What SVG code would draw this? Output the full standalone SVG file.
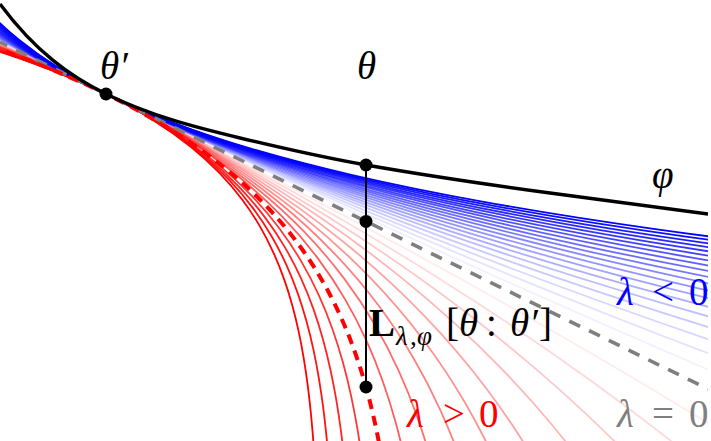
<svg xmlns="http://www.w3.org/2000/svg" width="711" height="441" viewBox="0 0 711 441">
<style>
.lab{font-family:"Liberation Serif","DejaVu Serif",serif;font-size:39px;font-style:italic}
.up{font-style:normal}
.bf{font-style:normal;font-weight:bold}
.sub{font-size:27px}
</style>
<defs>
<path id="c" fill="none" d="M1.97919,3.5 C1.974054,3.416667 1.968279,3.333333 1.961685,3.25 C1.955091,3.166667 1.947677,3.083333 1.93921,3 C1.930743,2.916667 1.921223,2.833333 1.910351,2.75 C1.899479,2.666667 1.887256,2.583333 1.873296,2.5 C1.859336,2.416667 1.843641,2.333333 1.825716,2.25 C1.807791,2.166667 1.787638,2.083333 1.764622,2 C1.741606,1.916667 1.715728,1.833333 1.686175,1.75 C1.656622,1.666667 1.623396,1.583333 1.585449,1.5 C1.547502,1.416667 1.504837,1.333333 1.456112,1.25 C1.407387,1.166667 1.352607,1.083333 1.290043,1 C1.227479,0.916667 1.157136,0.833333 1.076802,0.75 C0.996468,0.666667 0.90615,0.583333 0.802998,0.5 C0.699846,0.416667 0.583875,0.333333 0.451426,0.25 C0.318977,0.166667 0.170068,0.083333 0,0 C-0.170068,-0.083333 -0.361271,-0.166667 -0.579643,-0.25 C-0.798015,-0.333333 -1.043525,-0.416667 -1.32392,-0.5 C-1.604315,-0.583333 -1.919557,-0.666667 -2.279591,-0.75 C-2.639625,-0.833333 -3.044404,-0.916667 -3.506697,-1 C-3.96899,-1.083333 -4.488736,-1.166667 -5.082332,-1.25 C-5.675928,-1.333333 -6.343294,-1.416667 -7.105486,-1.5"/>
<clipPath id="clip"><rect x="0" y="0" width="708" height="441"/></clipPath>
</defs>
<rect width="711" height="441" fill="#ffffff"/>
<g id="connectors" clip-path="url(#clip)">
<g id="red-family" transform="translate(106,94)" stroke="#ff0000" fill="none">
<use href="#c" transform="scale(1477.1)" stroke-width="0.001219" stroke-opacity="0.08"/>
<use href="#c" transform="scale(738.55)" stroke-width="0.002437" stroke-opacity="0.15"/>
<use href="#c" transform="scale(492.37)" stroke-width="0.003656" stroke-opacity="0.22"/>
<use href="#c" transform="scale(369.28)" stroke-width="0.004874" stroke-opacity="0.29"/>
<use href="#c" transform="scale(295.42)" stroke-width="0.006093" stroke-opacity="0.36"/>
<use href="#c" transform="scale(246.18)" stroke-width="0.007312" stroke-opacity="0.43"/>
<use href="#c" transform="scale(211.01)" stroke-width="0.00853" stroke-opacity="0.5"/>
<use href="#c" transform="scale(184.64)" stroke-width="0.009749" stroke-opacity="0.57"/>
<use href="#c" transform="scale(164.12)" stroke-width="0.010967" stroke-opacity="0.64"/>
<use href="#c" transform="scale(134.28)" stroke-width="0.013405" stroke-opacity="0.79"/>
<use href="#c" transform="scale(123.09)" stroke-width="0.014623" stroke-opacity="0.86"/>
<use href="#c" transform="scale(113.62)" stroke-width="0.015842" stroke-opacity="0.93"/>
<use href="#c" transform="scale(105.51)" stroke-width="0.01706" stroke-opacity="1"/>
</g>
<g id="blue-family" transform="translate(106,94)" stroke="#0000ff" fill="none">
<use href="#c" transform="scale(-2053.4)" stroke-width="0.000877" stroke-opacity="0.06"/>
<use href="#c" transform="scale(-1026.7)" stroke-width="0.001753" stroke-opacity="0.11"/>
<use href="#c" transform="scale(-684.46)" stroke-width="0.00263" stroke-opacity="0.16"/>
<use href="#c" transform="scale(-513.35)" stroke-width="0.003506" stroke-opacity="0.21"/>
<use href="#c" transform="scale(-410.68)" stroke-width="0.004383" stroke-opacity="0.26"/>
<use href="#c" transform="scale(-342.23)" stroke-width="0.00526" stroke-opacity="0.32"/>
<use href="#c" transform="scale(-293.34)" stroke-width="0.006136" stroke-opacity="0.37"/>
<use href="#c" transform="scale(-256.67)" stroke-width="0.007013" stroke-opacity="0.42"/>
<use href="#c" transform="scale(-228.15)" stroke-width="0.007889" stroke-opacity="0.47"/>
<use href="#c" transform="scale(-205.34)" stroke-width="0.008766" stroke-opacity="0.53"/>
<use href="#c" transform="scale(-186.67)" stroke-width="0.009643" stroke-opacity="0.58"/>
<use href="#c" transform="scale(-171.12)" stroke-width="0.010519" stroke-opacity="0.63"/>
<use href="#c" transform="scale(-157.95)" stroke-width="0.011396" stroke-opacity="0.68"/>
<use href="#c" transform="scale(-146.67)" stroke-width="0.012272" stroke-opacity="0.74"/>
<use href="#c" transform="scale(-136.89)" stroke-width="0.013149" stroke-opacity="0.79"/>
<use href="#c" transform="scale(-128.34)" stroke-width="0.014026" stroke-opacity="0.84"/>
<use href="#c" transform="scale(-120.79)" stroke-width="0.014902" stroke-opacity="0.89"/>
<use href="#c" transform="scale(-114.08)" stroke-width="0.015779" stroke-opacity="0.95"/>
<use href="#c" transform="scale(-108.07)" stroke-width="0.016655" stroke-opacity="1"/>
</g>
<path id="tangent" d="M0,42.06 L708,388.98" stroke="#7f7f7f" stroke-width="3.6" stroke-dasharray="12 10" stroke-dashoffset="4" fill="none"/>
<g id="red-dashed" transform="translate(106,94)">
<use href="#c" transform="scale(147.71)" stroke="#ff0000" stroke-width="0.02708" stroke-dasharray="0.0677 0.0474" fill="none"/>
</g>
<path id="phi" d="M0,4 C35.33,51.7 70.67,76.69 106,94 C150.67,115.89 195.33,127.28 240,138 C282,148.08 324,157.65 366,165 C427.33,175.73 488.67,184.72 550,193 C602.67,200.11 655.33,207.15 708,214" stroke="#000000" stroke-width="3.4" fill="none"/>
<path id="gap" d="M366,165 L366,387" stroke="#000000" stroke-width="2" fill="none"/>
</g>
<g id="node-theta-prime"><circle cx="106" cy="94" r="6.5" fill="#000"/><text class="lab" x="100" y="79">θ′</text></g>
<g id="node-theta"><text class="lab" x="357" y="79">θ</text></g>
<g id="node-phi-point"><circle cx="366" cy="165" r="6.5" fill="#000"/></g>
<g id="node-tangent-point"><circle cx="366" cy="221.4" r="6.5" fill="#000"/></g>
<g id="node-lambda-point"><circle cx="366" cy="387" r="6.5" fill="#000"/></g>
<g id="label-phi"><text class="lab" x="652" y="188">φ</text></g>
<g id="label-L"><text class="lab" y="336"><tspan class="bf" x="369">L</tspan><tspan class="sub" x="396" y="345">λ</tspan><tspan class="sub up" x="410" y="345">,</tspan><tspan class="sub" x="417" y="345">φ</tspan><tspan class="up" x="446" y="336">[</tspan><tspan x="459">θ</tspan><tspan class="up" x="486">:</tspan><tspan x="510">θ′</tspan><tspan class="up" x="539">]</tspan></text></g>
<g id="label-neg" fill="#0000ff"><text class="lab" y="305"><tspan x="617">λ</tspan><tspan class="up" x="652">&lt;</tspan><tspan class="up" x="689">0</tspan></text></g>
<g id="label-zero" fill="#7f7f7f"><text class="lab" y="427"><tspan x="617">λ</tspan><tspan class="up" x="652">=</tspan><tspan class="up" x="689">0</tspan></text></g>
<g id="label-pos" fill="#ff0000"><text class="lab" y="427"><tspan x="407">λ</tspan><tspan class="up" x="443">&gt;</tspan><tspan class="up" x="479">0</tspan></text></g>
</svg>
